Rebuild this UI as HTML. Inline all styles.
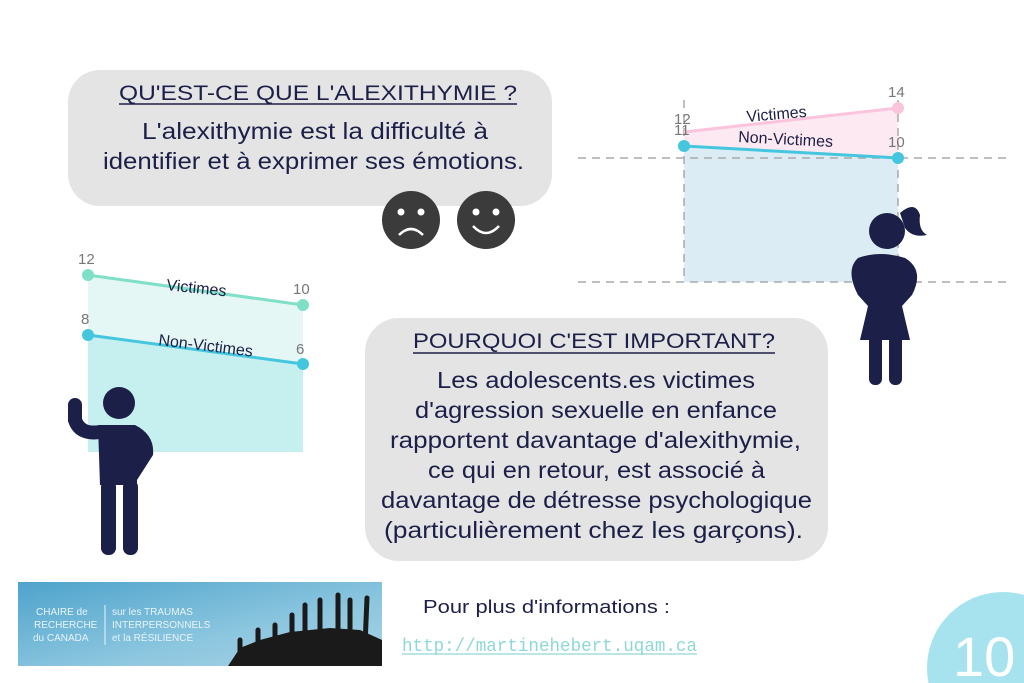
<!DOCTYPE html>
<html><head><meta charset="utf-8"><style>
html,body{margin:0;padding:0;width:1024px;height:683px;overflow:hidden;background:#fff;font-family:"Liberation Sans",sans-serif}
svg{display:block}
</style></head><body>
<svg width="1024" height="683" viewBox="0 0 1024 683" xmlns="http://www.w3.org/2000/svg" font-family="Liberation Sans, sans-serif">
<!-- box 1 -->
<rect x="68" y="70" width="484" height="136" rx="32" fill="#e4e4e4"/>
<text x="119" y="100" font-size="21" fill="#1c1f47" textLength="398" lengthAdjust="spacingAndGlyphs">QU'EST-CE QUE L'ALEXITHYMIE ?</text>
<line x1="119" y1="104" x2="517" y2="104" stroke="#1c1f47" stroke-width="1.5"/>
<text x="142" y="139" font-size="23" fill="#1c1f47" textLength="346" lengthAdjust="spacingAndGlyphs">L'alexithymie est la difficulté à</text>
<text x="103" y="169" font-size="23" fill="#1c1f47" textLength="421" lengthAdjust="spacingAndGlyphs">identifier et à exprimer ses émotions.</text>
<!-- smileys -->
<circle cx="411" cy="220" r="29" fill="#3b3b3b"/>
<circle cx="401" cy="212" r="3.5" fill="#fff"/><circle cx="421" cy="212" r="3.5" fill="#fff"/>
<path d="M399 235 Q411 223 423 235" stroke="#fff" stroke-width="2.5" fill="none"/>
<circle cx="486" cy="220" r="29" fill="#3b3b3b"/>
<circle cx="476" cy="212" r="3.5" fill="#fff"/><circle cx="496" cy="212" r="3.5" fill="#fff"/>
<path d="M473 226 Q486 240 499 226" stroke="#fff" stroke-width="2.5" fill="none"/>
<!-- left chart -->
<polygon points="88,275 303,305 303,452 88,452" fill="#e4f7f5"/>
<polygon points="88,335 303,364 303,452 88,452" fill="#c6eff0"/>
<line x1="88" y1="275" x2="303" y2="305" stroke="#7fdfc7" stroke-width="3"/>
<line x1="88" y1="335" x2="303" y2="364" stroke="#45c6df" stroke-width="3"/>
<circle cx="88" cy="275" r="6" fill="#7fdfc7"/><circle cx="303" cy="305" r="6" fill="#7fdfc7"/>
<circle cx="88" cy="335" r="6" fill="#45c6df"/><circle cx="303" cy="364" r="6" fill="#45c6df"/>
<g font-size="15" fill="#777"><text x="78" y="264">12</text><text x="293" y="294">10</text><text x="81" y="324">8</text><text x="296" y="354">6</text></g>
<text x="166" y="290" font-size="16" fill="#1c1f47" transform="rotate(6 166 290)">Victimes</text>
<text x="158" y="345" font-size="16" fill="#1c1f47" transform="rotate(7 158 345)">Non-Victimes</text>
<!-- man -->
<g fill="#1c1f47">
<circle cx="119" cy="403" r="16"/>
<path d="M98 425 L135 425 Q155 435 153 455 L137 480 L137 485 L100 485 Z"/>
<rect x="101" y="480" width="15" height="75" rx="7"/><rect x="123" y="480" width="15" height="75" rx="7"/>
<path d="M75 405 L75 420 Q80 435 100 432" stroke="#1c1f47" stroke-width="14" fill="none" stroke-linecap="round"/>
</g>
<!-- right chart -->
<polygon points="684,132 898,108 898,158 684,146" fill="#fde9f2"/>
<polygon points="684,146 898,158 898,282 684,282" fill="#dbecf4"/>
<g stroke="#aaa" stroke-width="1.5" stroke-dasharray="8,6">
<line x1="578" y1="158" x2="1007" y2="158"/><line x1="578" y1="282" x2="1007" y2="282"/>
<line x1="684" y1="100" x2="684" y2="282"/><line x1="898" y1="100" x2="898" y2="282"/>
</g>
<line x1="684" y1="132" x2="898" y2="108" stroke="#fbc3dc" stroke-width="3"/>
<line x1="684" y1="146" x2="898" y2="158" stroke="#45c6df" stroke-width="3"/>
<circle cx="898" cy="108" r="6" fill="#fbc3dc"/>
<circle cx="684" cy="146" r="6" fill="#45c6df"/><circle cx="898" cy="158" r="6" fill="#45c6df"/>
<g font-size="15" fill="#777"><text x="674" y="124">12</text><text x="674" y="135">11</text><text x="888" y="97">14</text><text x="888" y="147">10</text></g>
<text x="747" y="122" font-size="16" fill="#1c1f47" transform="rotate(-5 747 122)">Victimes</text>
<text x="738" y="142" font-size="16" fill="#1c1f47" transform="rotate(3 738 142)">Non-Victimes</text>
<!-- girl -->
<g fill="#1c1f47">
<circle cx="887" cy="231" r="18"/>
<path d="M900 213 Q915 200 920 215 Q918 230 927 235 Q912 238 905 228 Z"/>
<path d="M858 258 Q880 250 905 258 Q925 270 912 295 L902 306 L910 340 L860 340 L868 306 L858 295 Q845 270 858 258 Z"/>
<rect x="869" y="330" width="13" height="55" rx="6"/><rect x="889" y="330" width="13" height="55" rx="6"/>
</g>
<!-- box 2 -->
<rect x="365" y="318" width="463" height="243" rx="34" fill="#e4e4e4"/>
<text x="413" y="348" font-size="21" fill="#1c1f47" textLength="362" lengthAdjust="spacingAndGlyphs">POURQUOI C'EST IMPORTANT?</text>
<line x1="413" y1="353" x2="775" y2="353" stroke="#1c1f47" stroke-width="1.5"/>
<g font-size="23" fill="#1c1f47">
<text x="437" y="388" textLength="318" lengthAdjust="spacingAndGlyphs">Les adolescents.es victimes</text>
<text x="415" y="418" textLength="362" lengthAdjust="spacingAndGlyphs">d'agression sexuelle en enfance</text>
<text x="390" y="448" textLength="411" lengthAdjust="spacingAndGlyphs">rapportent davantage d'alexithymie,</text>
<text x="428" y="478" textLength="337" lengthAdjust="spacingAndGlyphs">ce qui en retour, est associé à</text>
<text x="381" y="508" textLength="431" lengthAdjust="spacingAndGlyphs">davantage de détresse psychologique</text>
<text x="384" y="538" textLength="419" lengthAdjust="spacingAndGlyphs">(particulièrement chez les garçons).</text>
</g>
<!-- logo -->
<defs><linearGradient id="lg" x1="0" y1="0" x2="1" y2="1"><stop offset="0" stop-color="#4ea3cc"/><stop offset="0.6" stop-color="#8cc6df"/><stop offset="1" stop-color="#a9d3e4"/></linearGradient></defs>
<rect x="18" y="582" width="364" height="84" fill="url(#lg)"/>
<g font-size="10" fill="#e8f4fa">
<text x="36" y="615">CHAIRE de</text><text x="34" y="628">RECHERCHE</text><text x="33" y="641">du CANADA</text>
<text x="112" y="615">sur les TRAUMAS</text><text x="112" y="628">INTERPERSONNELS</text><text x="112" y="641">et la RÉSILIENCE</text>
</g>
<line x1="105" y1="605" x2="105" y2="645" stroke="#e8f4fa"/>
<path d="M228 666 L240 648 L260 640 L290 632 L330 628 L360 630 L382 640 L382 666 Z" fill="#1a1a1a"/>
<g stroke="#1a1a1a" stroke-width="5" stroke-linecap="round">
<line x1="240" y1="660" x2="240" y2="640"/><line x1="258" y1="655" x2="258" y2="630"/><line x1="275" y1="652" x2="275" y2="625"/><line x1="292" y1="650" x2="292" y2="615"/><line x1="305" y1="648" x2="305" y2="605"/><line x1="320" y1="648" x2="320" y2="600"/><line x1="338" y1="650" x2="338" y2="595"/><line x1="350" y1="650" x2="350" y2="600"/><line x1="365" y1="645" x2="367" y2="598"/>
</g>
<text x="423" y="613" font-size="18" fill="#1c1f47" textLength="247" lengthAdjust="spacingAndGlyphs">Pour plus d'informations :</text>
<text x="402" y="651" font-size="18" fill="#8fd8d8" font-family="Liberation Mono, monospace" textLength="295" lengthAdjust="spacingAndGlyphs">http://martinehebert.uqam.ca</text>
<line x1="402" y1="654" x2="697" y2="654" stroke="#8fd8d8" stroke-width="1.2"/>
<!-- page number -->
<circle cx="1003" cy="668" r="76" fill="#a7e3ee"/>
<text x="953" y="676" font-size="56" fill="#fff">10</text>
</svg>
</body></html>
